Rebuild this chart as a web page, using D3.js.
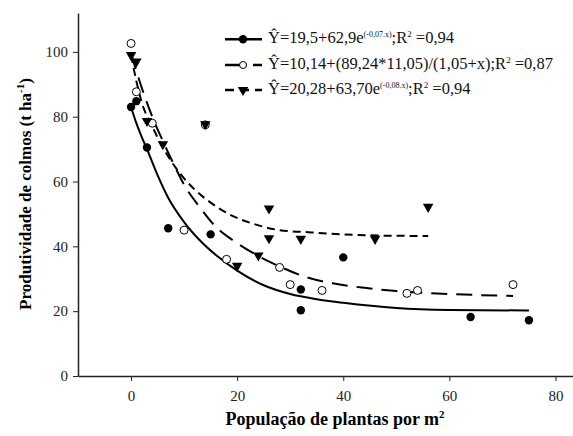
<!DOCTYPE html>
<html>
<head>
<meta charset="utf-8">
<script src="https://cdn.jsdelivr.net/npm/d3@7"></script>
<style>
  body { margin: 0; background: #fff; }
  text { font-family: "Liberation Serif", "Times New Roman", serif; }
</style>
</head>
<body>
<svg id="svg"></svg>
<script>
/**
 * CONSTANTS AND GLOBALS
 * */
const width = 573,
  height = 436,
  margin = { top: 13, bottom: 60, left: 78, right: -9 };

// observed points (x = plants per m2, y = t/ha)
const circlesX = [0, 1, 3, 7, 15, 32, 32, 40, 64, 75];
const circlesY = [83, 84.8, 70.5, 45.6, 43.7, 26.7, 20.3, 36.6, 18.2, 17.2];

const openX = [0, 1, 4, 10, 14, 18, 28, 30, 36, 52, 54, 72];
const openY = [102.6, 87.7, 78, 45, 77.5, 36, 33.5, 28.2, 26.4, 25.5, 26.4, 28.2];

const triX = [0, 1, 3, 6, 14, 20, 24, 26, 26, 32, 46, 56];
const triY = [99, 97, 78.7, 71.5, 77.7, 34, 37.2, 51.7, 42.5, 42.3, 42.3, 52.2];

// fitted curves
const fit1X = [0, 1, 2, 3, 5, 7, 10, 13, 16, 20, 25, 30, 35, 40, 50, 60, 75];
const fit1Y = [83, 78, 73.8, 70, 62, 55, 47.5, 41.8, 37.3, 32.5, 28, 25.3, 23.7, 22.6, 21, 20.4, 20.2];

const fit2X = [0, 2, 4, 6, 8, 10, 13, 16, 20, 24, 28, 33, 38, 44, 50, 60, 72];
const fit2Y = [99.5, 89, 80, 72.5, 65.5, 59, 52, 46, 41, 37, 33.8, 30.5, 28.6, 27.2, 26.2, 25.3, 24.7];

const fit3X = [0, 1, 2, 4, 6, 9, 12, 15, 19, 23, 28, 34, 40, 48, 56];
const fit3Y = [99, 91, 84.5, 77, 70.5, 63, 57.5, 53.5, 49.5, 47, 45, 44.3, 43.7, 43.3, 43.2];

const xTicks = [0, 20, 40, 60, 80];
const yTicks = [0, 20, 40, 60, 80, 100];

const legendLabels = [
  { a: "Ŷ=19,5+62,9e", sup: "(-0,07.x)", b: ";R", sup2: "2", c: " =0,94" },
  { a: "Ŷ=10,14+(89,24*11,05)/(1,05+x);R", sup: null, sup2: "2", c: " =0,87" },
  { a: "Ŷ=20,28+63,70e", sup: "(-0,08.x)", b: ";R", sup2: "2", c: " =0,94" }
];

let svg, xScale, yScale;

function init() {
  svg = d3.select("#svg")
    .attr("width", width)
    .attr("height", height);

  xScale = d3.scaleLinear()
    .domain([-10, 85])
    .range([margin.left, width - margin.right]);

  yScale = d3.scaleLinear()
    .domain([0, 112])
    .range([height - margin.bottom, margin.top]);

  // axes
  const xAxis = svg.append("g")
    .attr("transform", `translate(0,${height - margin.bottom})`)
    .call(d3.axisBottom(xScale).tickValues(xTicks).tickSize(5).tickSizeOuter(0).tickPadding(9));

  const yAxis = svg.append("g")
    .attr("transform", `translate(${margin.left},0)`)
    .call(d3.axisLeft(yScale).tickValues(yTicks).tickSize(5).tickSizeOuter(0).tickPadding(5));

  [xAxis, yAxis].forEach(ax => {
    ax.select(".domain").attr("stroke", "#222").attr("stroke-width", 1.5);
    ax.selectAll(".tick line").attr("stroke", "#222").attr("stroke-width", 1);
    ax.selectAll(".tick text")
      .attr("font-size", 15)
      .attr("fill", "#222");
  });

  // axis titles
  const xt = svg.append("text")
    .attr("x", 335)
    .attr("y", 425)
    .attr("text-anchor", "middle")
    .attr("font-size", 18)
    .attr("font-weight", "bold");
  xt.append("tspan").text("População de plantas por m");
  xt.append("tspan").attr("dy", -7).attr("font-size", 11).text("2");

  const yt = svg.append("text")
    .attr("transform", "translate(31,194) rotate(-90)")
    .attr("text-anchor", "middle")
    .attr("font-size", 17)
    .attr("font-weight", "bold");
  yt.append("tspan").text("Produtividade de colmos (t ha");
  yt.append("tspan").attr("dy", -7).attr("font-size", 11).text("-1");
  yt.append("tspan").attr("dy", 7).text(")");

  // curves
  const line = d3.line()
    .x(d => xScale(d[0]))
    .y(d => yScale(d[1]))
    .curve(d3.curveMonotoneX);

  const curves = [
    { x: fit1X, y: fit1Y, dash: null },
    { x: fit2X, y: fit2Y, dash: "16,9" },
    { x: fit3X, y: fit3Y, dash: "8,5" }
  ];

  svg.selectAll("path.fit")
    .data(curves)
    .join("path")
    .attr("class", "fit")
    .attr("fill", "none")
    .attr("stroke", "#000")
    .attr("stroke-width", 2)
    .attr("stroke-dasharray", d => d.dash)
    .attr("d", d => line(d3.zip(d.x, d.y)));

  // points
  svg.selectAll("circle.filled")
    .data(d3.zip(circlesX, circlesY))
    .join("circle")
    .attr("class", "filled")
    .attr("cx", d => xScale(d[0]))
    .attr("cy", d => yScale(d[1]))
    .attr("r", 4.2)
    .attr("fill", "#000");

  svg.selectAll("circle.open")
    .data(d3.zip(openX, openY))
    .join("circle")
    .attr("class", "open")
    .attr("cx", d => xScale(d[0]))
    .attr("cy", d => yScale(d[1]))
    .attr("r", 4)
    .attr("fill", "#fff")
    .attr("stroke", "#000")
    .attr("stroke-width", 1);

  const tri = d3.symbol().type(d3.symbolTriangle).size(48);

  svg.selectAll("path.tri")
    .data(d3.zip(triX, triY))
    .join("path")
    .attr("class", "tri")
    .attr("d", tri)
    .attr("transform", d => `translate(${xScale(d[0])},${yScale(d[1])}) rotate(180)`)
    .attr("fill", "#000");

  // legend
  const rowY = [39.3, 65, 90];
  const lg = svg.append("g");

  legendLabels.forEach((lab, i) => {
    const y = rowY[i];
    lg.append("line")
      .attr("x1", 225).attr("x2", 262)
      .attr("y1", y).attr("y2", y)
      .attr("stroke", "#000")
      .attr("stroke-width", 2.5)
      .attr("stroke-dasharray", i === 0 ? null : (i === 1 ? "22,6" : "9,6"));

    if (i === 0) {
      lg.append("circle").attr("cx", 243).attr("cy", y).attr("r", 4.2).attr("fill", "#000");
    } else if (i === 1) {
      lg.append("circle").attr("cx", 243).attr("cy", y).attr("r", 3.5)
        .attr("fill", "#fff").attr("stroke", "#000");
    } else {
      lg.append("path").attr("d", tri)
        .attr("transform", `translate(243,${y}) rotate(180)`)
        .attr("fill", "#000");
    }

    const t = lg.append("text")
      .attr("x", 268)
      .attr("y", y + 3.5)
      .attr("font-size", 16.5)
      .attr("fill", "#111");
    t.append("tspan").text(lab.a);
    if (lab.sup) {
      t.append("tspan").attr("dy", -6).attr("font-size", 8).text(lab.sup);
      t.append("tspan").attr("dy", 6).text(lab.b);
    }
    t.append("tspan").attr("dy", -6).attr("font-size", 9).text(lab.sup2);
    t.append("tspan").attr("dy", 6).text(lab.c);
  });
}

init();
</script>
</body>
</html>
